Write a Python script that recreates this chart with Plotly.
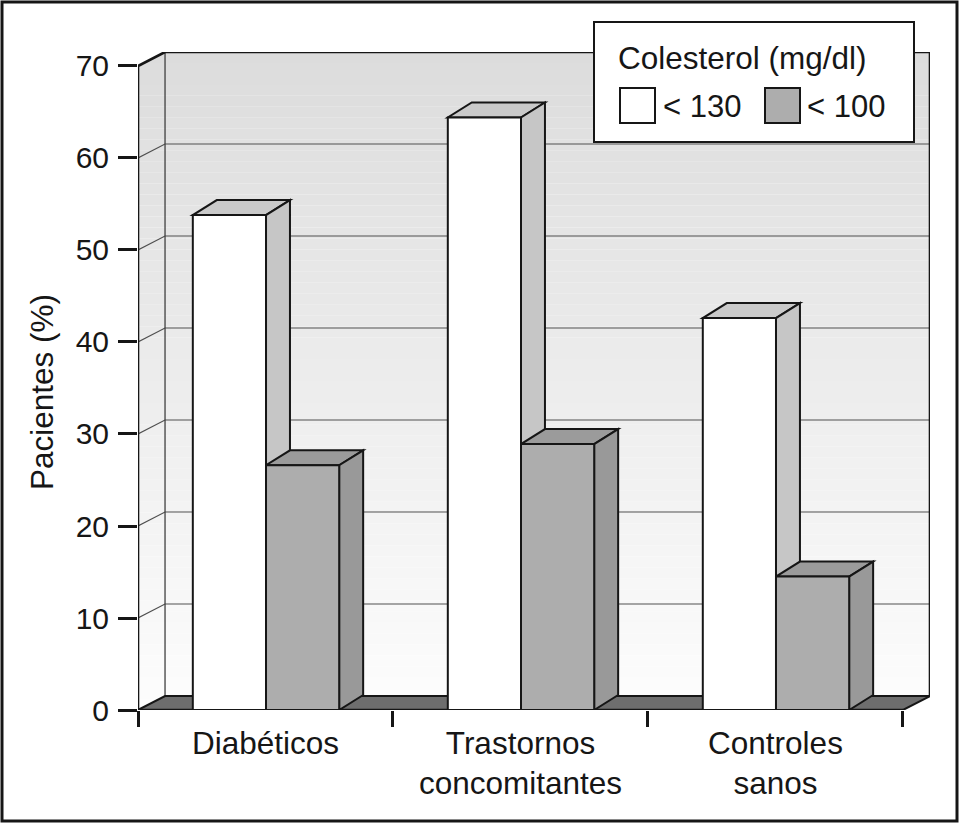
import plotly.graph_objects as go

# ---------------- data ----------------
categories = ["Diabéticos", "Trastornos<br>concomitantes", "Controles<br>sanos"]
series_names = ["< 130", "< 100"]
values_130 = [53.8, 64.4, 42.6]
values_100 = [26.6, 28.9, 14.5]
y_tick_vals = [0, 10, 20, 30, 40, 50, 60, 70]
y_title = "Pacientes (%)"
legend_title = "Colesterol (mg/dl)"

# ---------------- geometry / style ----------------
W, H = 960, 824
ML, MR, MT, MB = 138, 30, 52, 114
Y_MAX = 70
WALL_DX, WALL_DY = 0.106, 1.52      # depth of the walls (category units, value units)
BAR_DX, BAR_DY = 0.094, 1.63        # depth of the bars
BAR_W = 0.287
OFF_130, OFF_100 = 0.3585, 0.6455
N_CAT = len(categories)
X_MAX = N_CAT + WALL_DX
Y_TOP = Y_MAX + WALL_DY

FONT = "Liberation Sans, Arial, Helvetica, sans-serif"
INK = "#161616"
C_WHITE_FRONT, C_WHITE_TOP, C_WHITE_SIDE = "#ffffff", "#cacaca", "#c6c6c6"
C_GRAY_FRONT, C_GRAY_TOP, C_GRAY_SIDE = "#adadad", "#9b9b9b", "#999999"
C_FLOOR = "#6e6e6e"

plot_w = W - ML - MR
plot_h = H - MT - MB


def px_x(px):
    return (px - ML) / plot_w


def px_y(py):
    return (H - MB - py) / plot_h


def path(points):
    return "M " + " L ".join(f"{x},{y}" for x, y in points) + " Z"


shapes = []

# wall gradient (back + left wall), built as thin horizontal bands
N_BANDS = 60
for k in range(N_BANDS):
    y0 = Y_TOP * k / N_BANDS
    y1 = Y_TOP * (k + 1) / N_BANDS
    t = (k + 0.5) / N_BANDS
    g = int(round(253 - (253 - 220) * t))
    shapes.append(dict(type="rect", xref="x", yref="y", x0=0, x1=X_MAX, y0=y0, y1=y1,
                       fillcolor=f"rgb({g},{g},{g})", line=dict(width=0), layer="below"))
# white outside the wall outline
shapes.append(dict(type="path", xref="x", yref="y", layer="below",
                   path=path([(0, Y_MAX), (WALL_DX, Y_TOP), (0, Y_TOP)]),
                   fillcolor="white", line=dict(width=0)))
shapes.append(dict(type="path", xref="x", yref="y", layer="below",
                   path=path([(N_CAT, 0), (X_MAX, WALL_DY), (X_MAX, 0)]),
                   fillcolor="white", line=dict(width=0)))
# grid lines on left and back walls
for v in y_tick_vals[1:-1]:
    shapes.append(dict(type="path", xref="x", yref="y", layer="below",
                       path=f"M 0,{v} L {WALL_DX},{v + WALL_DY} L {X_MAX},{v + WALL_DY}",
                       line=dict(color="#505050", width=1.2)))
# back wall left edge
shapes.append(dict(type="line", xref="x", yref="y", layer="below",
                   x0=WALL_DX, x1=WALL_DX, y0=WALL_DY, y1=Y_TOP,
                   line=dict(color="#404040", width=1.3)))
# floor
shapes.append(dict(type="path", xref="x", yref="y", layer="below",
                   path=path([(0, 0), (N_CAT, 0), (X_MAX, WALL_DY), (WALL_DX, WALL_DY)]),
                   fillcolor=C_FLOOR, line=dict(color=INK, width=2)))
# heavy frame of the box
shapes.append(dict(type="path", xref="x", yref="y", layer="below",
                   path=f"M 0,0 L 0,{Y_MAX} L {WALL_DX},{Y_TOP} L {X_MAX},{Y_TOP} L {X_MAX},{WALL_DY}",
                   line=dict(color=INK, width=2.6)))
shapes.append(dict(type="line", xref="x", yref="y", layer="below",
                   x0=0, x1=N_CAT, y0=0, y1=0, line=dict(color=INK, width=2.6)))


def bar_3d(x0, x1, v, top_col, side_col):
    top = dict(type="path", xref="x", yref="y", layer="below",
               path=path([(x0, v), (x1, v), (x1 + BAR_DX, v + BAR_DY), (x0 + BAR_DX, v + BAR_DY)]),
               fillcolor=top_col, line=dict(color=INK, width=2))
    side = dict(type="path", xref="x", yref="y", layer="below",
                path=path([(x1, 0), (x1, v), (x1 + BAR_DX, v + BAR_DY), (x1 + BAR_DX, BAR_DY)]),
                fillcolor=side_col, line=dict(color=INK, width=2))
    return [top, side]


for i in range(N_CAT):
    a0 = i + OFF_130 - BAR_W / 2
    shapes += bar_3d(a0, a0 + BAR_W, values_130[i], C_WHITE_TOP, C_WHITE_SIDE)
    b0 = i + OFF_100 - BAR_W / 2
    shapes += bar_3d(b0, b0 + BAR_W, values_100[i], C_GRAY_TOP, C_GRAY_SIDE)

# ---------------- legend (drawn box) ----------------
LEG = dict(x0=594, y0=22, x1=914, y1=142)
shapes.append(dict(type="rect", xref="paper", yref="paper", layer="above",
                   x0=px_x(LEG["x0"]), x1=px_x(LEG["x1"]), y0=px_y(LEG["y1"]), y1=px_y(LEG["y0"]),
                   fillcolor="white", line=dict(color=INK, width=2)))
sw = [(620, 88, C_WHITE_FRONT), (765, 88, C_GRAY_FRONT)]
for sx, sy, col in sw:
    shapes.append(dict(type="rect", xref="paper", yref="paper", layer="above",
                       x0=px_x(sx), x1=px_x(sx + 35), y0=px_y(sy + 35), y1=px_y(sy),
                       fillcolor=col, line=dict(color=INK, width=2)))
# outer border of the figure
shapes.append(dict(type="rect", xref="paper", yref="paper", layer="above",
                   x0=px_x(2), x1=px_x(957), y0=px_y(821), y1=px_y(2),
                   line=dict(color=INK, width=3)))

annotations = [
    dict(xref="paper", yref="paper", x=px_x(616), y=px_y(58), xanchor="left", yanchor="middle",
         text=legend_title, showarrow=False, font=dict(family=FONT, size=31.5, color=INK)),
    dict(xref="paper", yref="paper", x=px_x(661), y=px_y(106), xanchor="left", yanchor="middle",
         text=series_names[0], showarrow=False, font=dict(family=FONT, size=31, color=INK)),
    dict(xref="paper", yref="paper", x=px_x(805), y=px_y(106), xanchor="left", yanchor="middle",
         text=series_names[1], showarrow=False, font=dict(family=FONT, size=31, color=INK)),
    # y-axis title
    dict(xref="paper", yref="paper", x=px_x(42), y=px_y(392), xanchor="center", yanchor="middle",
         text=y_title, textangle=-90, showarrow=False, font=dict(family=FONT, size=31.5, color=INK)),
]

# ---------------- bars (front faces) ----------------
fig = go.Figure()
fig.add_trace(go.Bar(
    x=[i + OFF_130 for i in range(N_CAT)], y=values_130, width=BAR_W, name=series_names[0],
    marker=dict(color=C_WHITE_FRONT, line=dict(color=INK, width=2)), showlegend=False,
))
fig.add_trace(go.Bar(
    x=[i + OFF_100 for i in range(N_CAT)], y=values_100, width=BAR_W, name=series_names[1],
    marker=dict(color=C_GRAY_FRONT, line=dict(color=INK, width=2)), showlegend=False,
))

fig.update_layout(
    width=W, height=H,
    margin=dict(l=ML, r=MR, t=MT, b=MB, pad=0),
    paper_bgcolor="white", plot_bgcolor="white",
    barmode="overlay",
    font=dict(family=FONT, size=30, color=INK),
    shapes=shapes, annotations=annotations,
    showlegend=False,
    xaxis=dict(
        range=[0, X_MAX], showgrid=False, zeroline=False, showline=False,
        tickmode="array", tickvals=[i + 0.5 for i in range(N_CAT)], ticktext=categories,
        ticks="", ticklabelstandoff=11,
        minor=dict(tickvals=list(range(N_CAT + 1)), ticks="outside", ticklen=16, tickwidth=2.6,
                   tickcolor=INK, showgrid=False),
        tickfont=dict(family=FONT, size=31.5, color=INK),
        fixedrange=True,
    ),
    yaxis=dict(
        range=[0, Y_TOP], showgrid=False, zeroline=False, showline=False,
        tickmode="array", tickvals=y_tick_vals, ticks="outside", ticklen=19, tickwidth=2.6,
        tickcolor=INK, ticklabelstandoff=3,
        tickfont=dict(family=FONT, size=30, color=INK),
        automargin=False, fixedrange=True,
    ),
)

fig.write_html("out.html", config={"displayModeBar": False},
               post_script="document.body.style.margin='0';")
